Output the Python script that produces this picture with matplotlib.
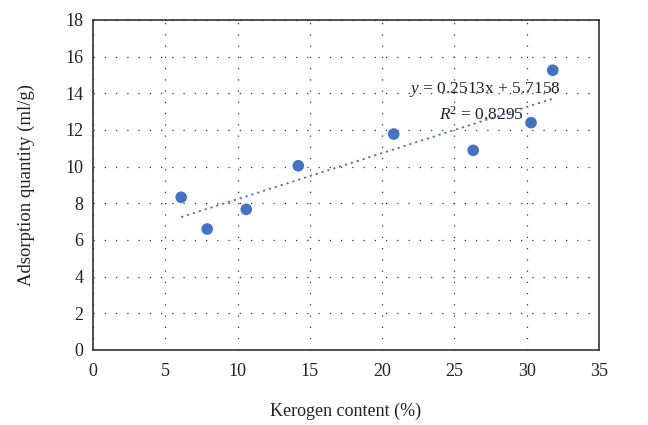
import numpy as np
import matplotlib
matplotlib.use("Agg")
import matplotlib.pyplot as plt

# Kerogen content (%) and adsorption quantity (ml/g)
kerogen = [6.1, 7.9, 10.6, 14.2, 20.8, 26.3, 30.3, 31.8]
adsorption = [8.33, 6.6, 7.67, 10.05, 11.78, 10.89, 12.4, 15.26]

# Linear trend line coefficients
slope = 0.2513
intercept = 5.7158
r_squared = 0.8295

x_ticks = [0, 5, 10, 15, 20, 25, 30, 35]
y_ticks = [0, 2, 4, 6, 8, 10, 12, 14, 16, 18]

plt.rcParams['font.family'] = ['Liberation Serif', 'DejaVu Serif']
plt.rcParams['mathtext.fontset'] = 'custom'
plt.rcParams['mathtext.rm'] = 'Liberation Serif'
plt.rcParams['mathtext.it'] = 'Liberation Serif:italic'

fig = plt.figure(figsize=(6.48, 4.25), dpi=100)
ax = fig.add_axes([93 / 648, 1 - 350 / 425, 506 / 648, 330 / 425])

blue = '#4472C4'
ink = '#222222'

ax.set_xlim(0, 35)
ax.set_ylim(0, 18)
ax.set_xticks(x_ticks)
ax.set_yticks(y_ticks)
ax.tick_params(axis='both', length=0, labelsize=13, colors=ink)
ax.tick_params(axis='x', pad=9)
ax.tick_params(axis='y', pad=7)

ax.grid(True, color='#333333', linestyle=(0, (1, 8)), linewidth=0.9)
ax.set_axisbelow(True)
for s in ax.spines.values():
    s.set_color('#333333')
    s.set_linewidth(1.2)

# Trend line over the data range
xs = np.array([min(kerogen), max(kerogen) + 0.2])
ax.plot(xs, slope * xs + intercept, color=blue, linestyle=(0, (1.2, 2.2)),
        linewidth=1.3, zorder=2)

ax.scatter(kerogen, adsorption, s=70, color=blue, edgecolors='none', zorder=3)

ax.text(0.925, 0.79, r'$y$ = %.4fx + %.4f' % (slope, intercept),
        transform=ax.transAxes, ha='right', va='center', fontsize=12.5, color=ink)
ax.text(0.852, 0.713, r'$R$$^{\rm 2}$ = %.4f' % r_squared,
        transform=ax.transAxes, ha='right', va='center', fontsize=12.5, color=ink)

ax.set_xlabel('Kerogen content (%)', fontsize=13, labelpad=17, color=ink)
ax.set_ylabel('Adsorption quantity (ml/g)', fontsize=13.5, labelpad=22, color=ink)

fig.savefig('out.png', dpi=100)
